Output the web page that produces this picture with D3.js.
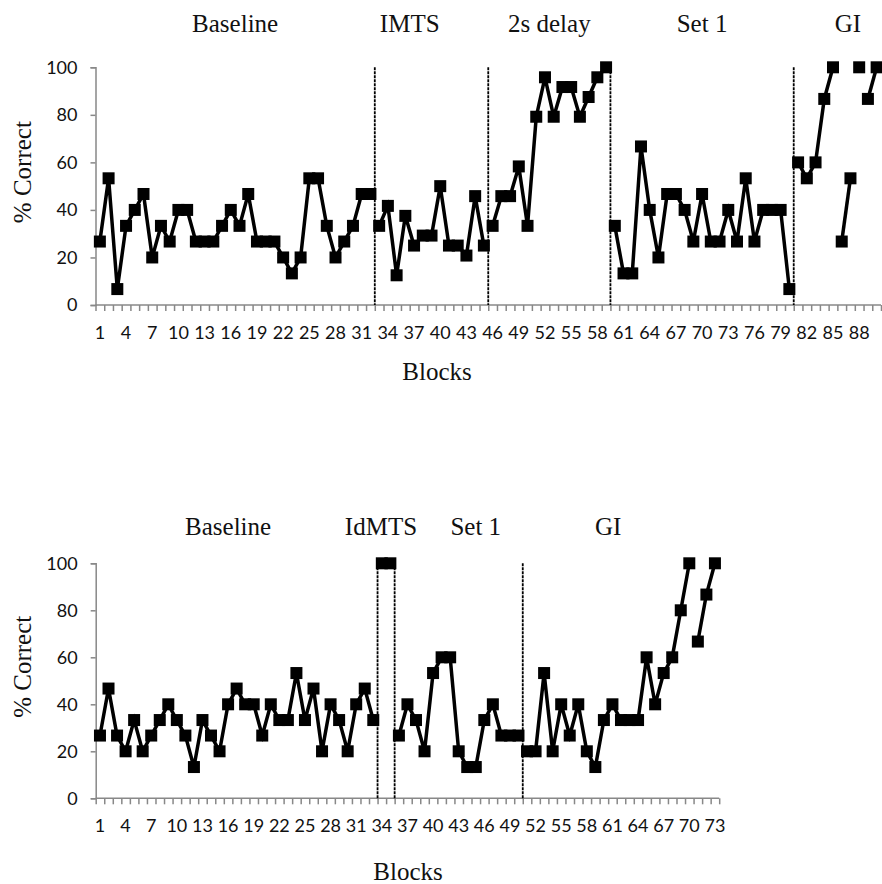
<!DOCTYPE html>
<html lang="en">
<head>
<meta charset="utf-8">
<title>% Correct by block</title>
<script src="https://cdn.jsdelivr.net/npm/d3@7"></script>
<style>
  * { margin: 0; padding: 0; box-sizing: border-box; }
  body { background: #fff; overflow: hidden; }
  svg { display: block; }
  .phase, .axis-title { font-family: "Liberation Serif", "Times New Roman", serif; font-size: 25px; fill: #111; }
  .tick-label { font-family: Lato, "Open Sans", sans-serif; font-size: 18px; fill: #111; }
</style>
</head>
<body>
<svg id="chart" width="882" height="884"></svg>
<script>
// top panel: 90 blocks
const topValues = [
  26.7, 53.3, 6.7, 33.3, 40, 46.7, 20, 33.3, 26.7, 40,
  40, 26.7, 26.7, 26.7, 33.3, 40, 33.3, 46.7, 26.7, 26.7,
  26.7, 20, 13.3, 20, 53.3, 53.3, 33.3, 20, 26.7, 33.3,
  46.7, 46.7,
  33.3, 41.7, 12.5, 37.5, 25, 29.2, 29.2, 50, 25, 25, 20.8, 45.8, 25,
  33.3, 45.8, 45.8, 58.3, 33.3, 79.2, 95.8, 79.2, 91.7, 91.7, 79.2, 87.5, 95.8, 100,
  33.3, 13.3, 13.3, 66.7, 40, 20, 46.7, 46.7, 40, 26.7,
  46.7, 26.7, 26.7, 40, 26.7, 53.3, 26.7, 40, 40, 40, 6.7,
  60, 53.3, 60, 86.7, 100, 26.7, 53.3, 100, 86.7, 100
];
// runs of blocks joined by one line
const topSegments = [[1, 32], [33, 45], [46, 59], [60, 80], [81, 85], [86, 87], [88, 88], [89, 90]];
const topPhases = ["Baseline", "IMTS", "2s delay", "Set 1", "GI"];
const topPhaseAt = [16.5, 36.5, 52.5, 70, 86.7];
const topDividers = [32.5, 45.5, 59.5, 80.5];

// bottom panel: 73 blocks
const bottomValues = [
  26.7, 46.7, 26.7, 20, 33.3, 20, 26.7, 33.3, 40, 33.3,
  26.7, 13.3, 33.3, 26.7, 20, 40, 46.7, 40, 40, 26.7,
  40, 33.3, 33.3, 53.3, 33.3, 46.7, 20, 40, 33.3, 20,
  40, 46.7, 33.3,
  100, 100,
  26.7, 40, 33.3, 20, 53.3, 60, 60, 20, 13.3, 13.3, 33.3, 40, 26.7, 26.7, 26.7,
  20, 20, 53.3, 20, 40, 26.7, 40, 20, 13.3, 33.3,
  40, 33.3, 33.3, 33.3, 60, 40, 53.3, 60, 80, 100,
  66.7, 86.7, 100
];
const bottomSegments = [[1, 33], [34, 35], [36, 50], [51, 70], [71, 73]];
const bottomPhases = ["Baseline", "IdMTS", "Set 1", "GI"];
const bottomPhaseAt = [16, 33.9, 45, 60.5];
const bottomDividers = [33.5, 35.5, 50.5];

const yTicks = [0, 20, 40, 60, 80, 100];

const svg = d3.select("#chart");

function panel(opts) {
  const { values, segments, phases, phaseAt, dividers, left, right, top, bottom, titleY, blocksX, blocksY, labelSize } = opts;
  const n = values.length;
  const x = d3.scaleLinear().domain([0.5, n + 0.5]).range([left, right]);
  const y = d3.scaleLinear().domain([0, 100]).range([bottom, top]);
  const g = svg.append("g");

  // y axis
  const yAxis = g.append("g")
    .attr("transform", `translate(${left},0)`)
    .call(d3.axisLeft(y).tickValues(yTicks).tickSize(5).tickPadding(13));
  yAxis.select(".domain").attr("stroke", "#888").attr("stroke-width", 1.5);
  yAxis.selectAll(".tick line").attr("stroke", "#888").attr("stroke-width", 1.5);
  yAxis.selectAll(".tick text").attr("class", "tick-label").attr("font-family", null).attr("font-size", null);

  // x axis: tick marks between blocks
  const xAxis = g.append("g")
    .attr("transform", `translate(0,${bottom})`)
    .call(d3.axisBottom(x).tickValues(d3.range(0.5, n + 1, 1)).tickSize(6).tickFormat(""));
  xAxis.select(".domain").attr("stroke", "#888").attr("stroke-width", 1.5).attr("d", `M${left},0H${right}`);
  xAxis.selectAll(".tick line").attr("stroke", "#888").attr("stroke-width", 1.5);

  g.append("g").selectAll("text")
    .data(d3.range(1, n + 1, 3))
    .join("text")
    .attr("class", "tick-label")
    .attr("font-size", labelSize)
    .attr("text-anchor", "middle")
    .attr("x", d => x(d))
    .attr("y", bottom + 34)
    .text(d => d);

  // phase dividers
  g.append("g").selectAll("line")
    .data(dividers)
    .join("line")
    .attr("x1", d => x(d)).attr("x2", d => x(d))
    .attr("y1", y(100)).attr("y2", y(0))
    .attr("stroke", "#000")
    .attr("stroke-width", 1.8)
    .attr("stroke-dasharray", "3,1");

  // phase titles
  g.append("g").selectAll("text")
    .data(phases)
    .join("text")
    .attr("class", "phase")
    .attr("text-anchor", "middle")
    .attr("x", (d, i) => x(phaseAt[i]))
    .attr("y", titleY)
    .text(d => d);

  // data lines
  const pts = values.map((v, i) => ({ block: i + 1, v }));
  const line = d3.line().x(d => x(d.block)).y(d => y(d.v));
  g.append("g").selectAll("path")
    .data(segments.map(([a, b]) => pts.slice(a - 1, b)))
    .join("path")
    .attr("d", line)
    .attr("fill", "none")
    .attr("stroke", "#000")
    .attr("stroke-width", 3.5)
    .attr("stroke-linejoin", "miter");

  const s = 12;
  g.append("g").selectAll("rect")
    .data(pts)
    .join("rect")
    .attr("x", d => x(d.block) - s / 2)
    .attr("y", d => y(d.v) - s / 2)
    .attr("width", s)
    .attr("height", s)
    .attr("fill", "#000");

  // axis titles
  g.append("text")
    .attr("class", "axis-title")
    .attr("text-anchor", "middle")
    .attr("x", blocksX)
    .attr("y", blocksY)
    .text("Blocks");

  g.append("text")
    .attr("class", "axis-title")
    .attr("text-anchor", "middle")
    .attr("transform", `translate(31,${(top + bottom) / 2 - 14}) rotate(-90)`)
    .text("% Correct");
}

panel({
  values: topValues, segments: topSegments, phases: topPhases, phaseAt: topPhaseAt, dividers: topDividers,
  left: 95.5, right: 881, top: 67.3, bottom: 305, titleY: 32, blocksX: 437, blocksY: 380, labelSize: 18
});

panel({
  values: bottomValues, segments: bottomSegments, phases: bottomPhases, phaseAt: bottomPhaseAt, dividers: bottomDividers,
  left: 95.7, right: 719.2, top: 563.3, bottom: 798.3, titleY: 535, blocksX: 408, blocksY: 880, labelSize: 17
});
</script>
</body>
</html>
